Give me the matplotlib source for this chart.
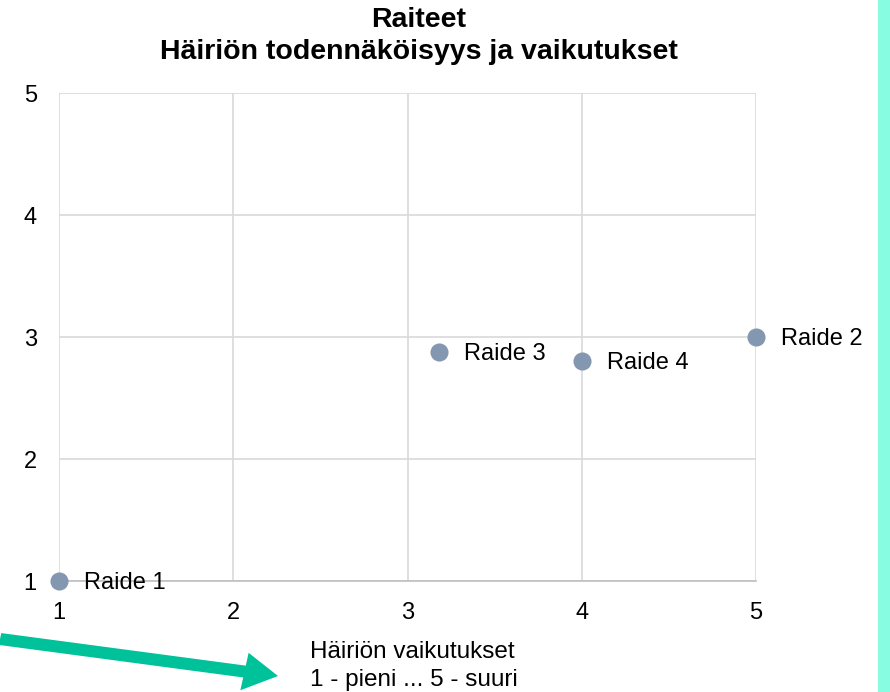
import matplotlib
matplotlib.use("Agg")
import matplotlib.pyplot as plt
from matplotlib.patches import FancyArrow, Rectangle

plt.rcParams['font.family'] = ['Liberation Sans', 'DejaVu Sans']

names = ["Raide 1", "Raide 2", "Raide 3", "Raide 4"]
impact = [1.0, 5.0, 3.18, 4.0]
probability = [1.0, 3.0, 2.88, 2.8]
ticks = [1, 2, 3, 4, 5]
title = "Raiteet\nHäiriön todennäköisyys ja vaikutukset"
xlabel = "Häiriön vaikutukset\n1 - pieni ... 5 - suuri"

W, H = 890, 692
fig = plt.figure(figsize=(W / 100, H / 100), dpi=100)
ax = fig.add_axes([59 / W, 1 - 581 / H, (756 - 59) / W, (581 - 93) / H])

ax.scatter(impact, probability, s=170, color="#8497B0", zorder=3, clip_on=False, linewidths=0)
for n, x, y in zip(names, impact, probability):
    ax.annotate(n, (x, y), xytext=(18, -1.5), textcoords="offset points",
                va="center", ha="left", fontsize=17, color="#000000", zorder=4)

ax.set_xlim(1, 5)
ax.set_ylim(1, 5)
ax.set_xticks(ticks)
ax.set_yticks(ticks)
ax.tick_params(axis="both", length=0, labelsize=17, colors="#000000")
ax.tick_params(axis="x", pad=15)
ax.tick_params(axis="y", pad=16)
ax.grid(True, color="#D9D9D9", linewidth=1.2)
ax.set_axisbelow(True)
for s in ["top", "right", "left"]:
    ax.spines[s].set_visible(False)
ax.spines["bottom"].set_color("#BFBFBF")
ax.spines["bottom"].set_linewidth(1.2)

fig.text(419 / W, 1 - 36 / H, title, ha="center", va="center",
         fontsize=20.5, fontweight="bold", linespacing=1.3)
fig.text(310 / W, 1 - 666 / H, xlabel, ha="left", va="center",
         fontsize=17.5, linespacing=1.4)

# green arrow
fig.add_artist(FancyArrow(0 / W, 1 - 639 / H, 278 / W, -(676 - 639) / H,
                          width=12 / H, head_width=38 / H, head_length=34 / W,
                          length_includes_head=True, color="#00C29A",
                          transform=fig.transFigure, linewidth=0))
# cyan bar at right edge
fig.add_artist(Rectangle((878 / W, 0), 12 / W, 1, transform=fig.transFigure,
                         color="#88FCE0", linewidth=0))

fig.savefig("out.png", dpi=100)
